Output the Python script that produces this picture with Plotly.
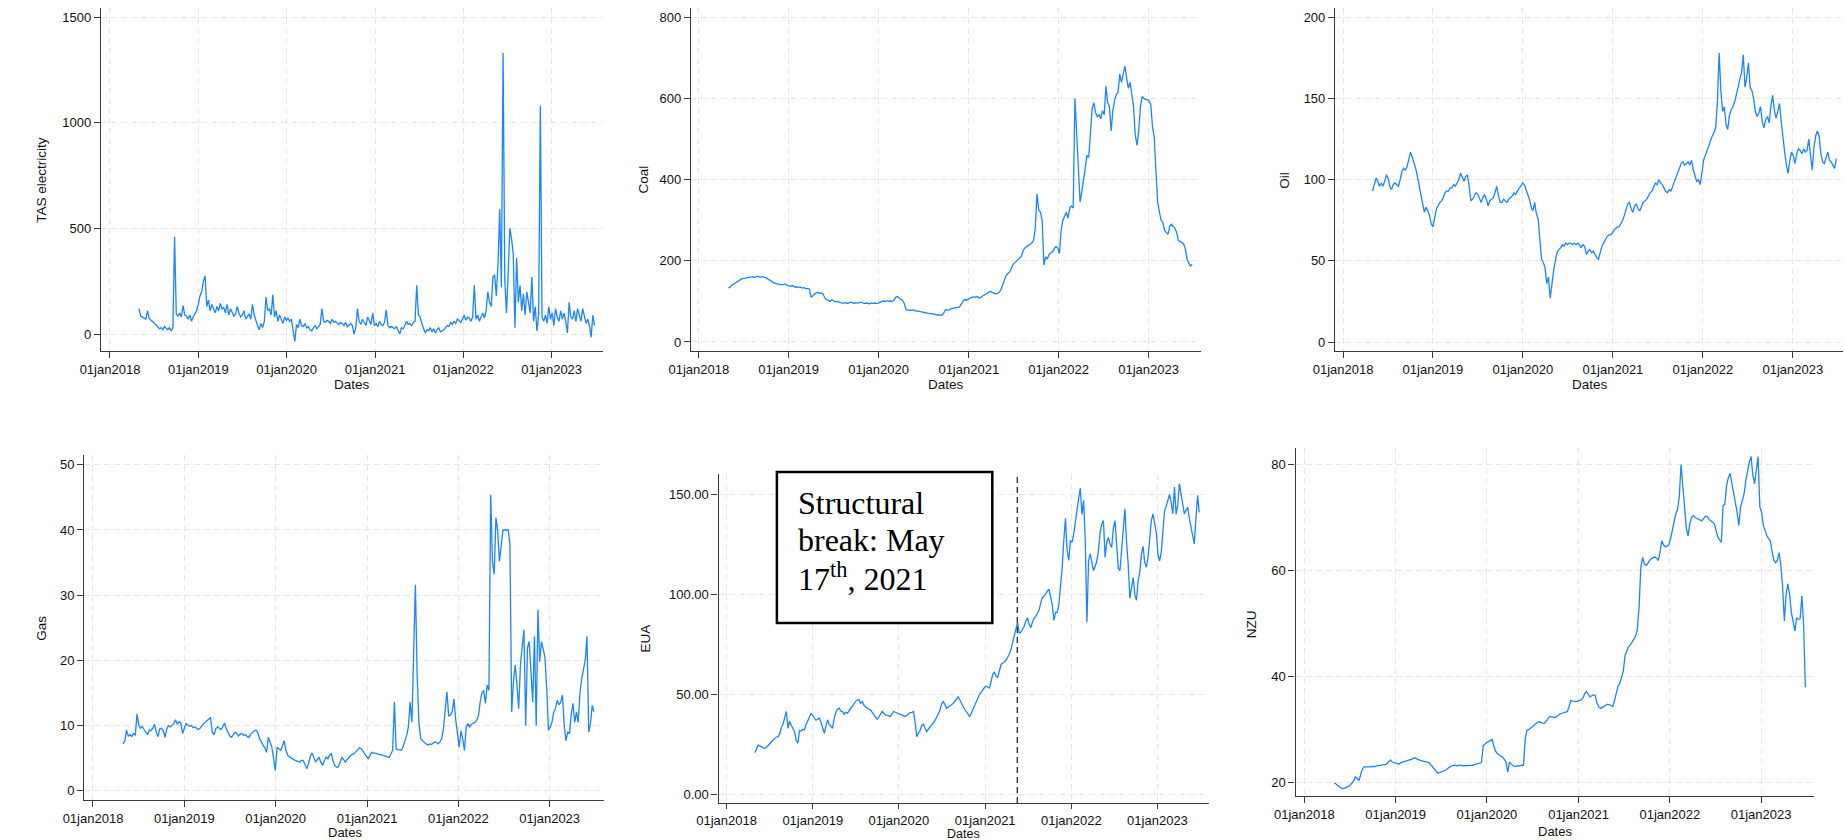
import pandas as pd
import plotly.graph_objects as go

# ---------------- data (weekly samples from 2018-05-01) ----------------
START = "2018-05-01"
tick_dates = ["2018-01-01", "2019-01-01", "2020-01-01", "2021-01-01", "2022-01-01", "2023-01-01"]
tick_labels = ["01jan2018", "01jan2019", "01jan2020", "01jan2021", "01jan2022", "01jan2023"]
break_date = "2021-05-17"

tas = [120, 85, 80, 75, 70, 110, 75, 65, 60, 50,
       45, 35, 25, 30, 20, 35, 25, 20, 30, 15,
       30, 460, 95, 85, 100, 80, 135, 90, 85, 70,
       90, 60, 80, 95, 110, 140, 180, 200, 250, 275,
       130, 160, 110, 140, 120, 100, 130, 110, 145, 120,
       125, 100, 140, 90, 120, 100, 85, 95, 130, 100,
       80, 90, 110, 70, 80, 95, 70, 140, 90, 60,
       40, 20, 50, 30, 60, 175, 110, 120, 90, 185,
       80, 110, 60, 90, 70, 50, 80, 65, 75, 60,
       70, 20, -35, 45, 30, 70, 40, 35, 50, 30,
       35, 20, 15, 30, 40, 25, 35, 45, 120, 60,
       55, 65, 60, 50, 70, 55, 60, 50, 45, 55,
       50, 40, 55, 35, 45, 50, 40, 0, 30, 120,
       60, 45, 70, 55, 40, 80, 60, 45, 100, 40,
       50, 35, 60, 45, 40, 55, 115, 40, 30, 35,
       30, 25, 35, 20, 0, 30, 25, 40, 60, 45,
       50, 40, 55, 60, 230, 90, 80, 50, 30, 5,
       20, 15, 30, 10, 25, 5, 20, 30, 10, 15,
       20, 30, 40, 35, 55, 45, 60, 50, 70, 65,
       55, 70, 90, 65, 80, 75, 60, 80, 230, 70,
       90, 60, 80, 100, 75, 110, 200, 150, 130, 270,
       280, 180, 330, 590, 220, 1330, 260, 100, 290, 500,
       450, 380, 30, 360, 150, 230, 110, 190, 90, 200,
       150, 100, 270, 60, 130, 15, 90, 1080, 80, 60,
       90, 50, 130, 70, 100, 40, 120, 80, 60, 110,
       70, 100, 60, 5, 150, 80, 70, 110, 60, 120,
       90, 60, 120, 80, 50, 70, 40, -15, 90, 40]

coal = [133, 135, 140, 143, 146, 149, 152, 154, 156, 157,
        158, 159, 160, 160, 161, 159, 161, 162, 160, 160,
        161, 159, 158, 155, 153, 150, 147, 145, 143, 142,
        142, 141, 142, 143, 140, 138, 137, 139, 136, 135,
        136, 134, 135, 133, 134, 131, 132, 130, 110, 115,
        118, 121, 122, 120, 121, 118, 108, 104, 102, 100,
        104, 101, 99, 100, 98, 97, 96, 96, 97, 95,
        96, 98, 97, 95, 97, 96, 97, 98, 96, 95,
        96, 95, 94, 96, 95, 96, 95, 96, 99, 100,
        101, 100, 102, 100, 101, 100, 103, 110, 112, 108,
        105, 103, 95, 80, 78, 79, 78, 79, 77, 76,
        76, 75, 74, 73, 73, 72, 71, 70, 70, 69,
        68, 67, 66, 67, 66, 72, 80, 78, 79, 82,
        83, 84, 85, 86, 86, 93, 100, 105, 103, 106,
        108, 110, 111, 110, 112, 110, 108, 112, 115, 118,
        120, 122, 125, 122, 121, 119, 120, 122, 128, 140,
        155, 163, 168, 172, 180, 190, 195, 200, 203, 207,
        212, 225, 232, 235, 238, 241, 244, 250, 280, 365,
        325, 320, 300, 190, 210, 205, 215, 220, 222, 230,
        235, 232, 218, 275, 300, 310, 320, 305, 330, 335,
        330, 600, 510, 440, 345, 370, 400, 430, 460, 455,
        520, 575, 590, 565, 555, 560, 550, 570, 560, 630,
        590, 580, 520, 570, 595, 610, 615, 660, 640, 665,
        680, 650, 625, 640, 610, 580, 510, 485, 520, 580,
        605, 600, 598, 597, 594, 585, 530, 505, 420, 345,
        320, 300, 295, 275, 270, 265, 285, 290, 285, 280,
        270, 250, 248, 245, 242, 230, 205, 195, 187, 192]

oil = [93, 97, 101, 99, 96, 98, 96, 99, 103, 101,
       96, 94, 97, 98, 97, 96, 100, 105, 107, 106,
       108, 112, 117, 114, 111, 107, 102, 97, 90, 87,
       80, 83, 81, 78, 73, 71, 78, 82, 84, 86,
       87, 89, 92, 93, 93, 95, 95, 97, 96, 98,
       100, 104, 101, 99, 102, 103, 96, 87, 88, 90,
       92, 91, 88, 86, 89, 91, 88, 84, 87, 88,
       89, 92, 96, 90, 86, 86, 88, 87, 86, 88,
       89, 90, 92, 91, 93, 95, 96, 98, 97, 94,
       92, 88, 83, 81, 86, 79, 76, 62, 51, 49,
       46, 36, 40, 27, 36, 44, 50, 55, 57, 58,
       60, 59, 61, 60, 61, 61, 60, 61, 60, 61,
       60, 58, 60, 59, 54, 56, 57, 55, 56, 54,
       52, 51, 56, 59, 61, 63, 65, 66, 66, 67,
       69, 70, 71, 71, 73, 75, 78, 81, 85, 86,
       82, 80, 84, 85, 82, 81, 84, 86, 87, 88,
       90, 92, 93, 96, 98, 97, 100, 98, 97, 95,
       93, 92, 94, 93, 96, 98, 101, 105, 107, 110,
       111, 109, 110, 111, 109, 112, 106, 102, 99, 100,
       97, 104, 112, 115, 118, 122, 125, 127, 129, 132,
       148, 178, 155, 142, 145, 134, 131, 140, 143, 145,
       148, 152, 157, 162, 166, 177, 157, 163, 172, 157,
       155, 150, 142, 139, 141, 145, 136, 132, 137, 139,
       135, 145, 152, 143, 138, 142, 147, 136, 125, 117,
       109, 104, 112, 117, 115, 110, 116, 119, 118, 116,
       119, 117, 118, 125, 115, 106, 120, 127, 130, 127,
       116, 111, 110, 114, 117, 112, 111, 109, 107, 113]

gas = [7.2, 7.6, 9.3, 8.4, 8.6, 8.3, 8.8, 8.5, 11.8, 10.1,
       9.6, 9.9, 9.4, 9.0, 8.6, 9.3, 9.2, 9.6, 10.2, 9.0,
       8.3, 9.5, 9.6, 9.2, 8.2, 9.5, 10.0, 9.8, 10.1, 10.3,
       10.9, 10.2, 10.6, 10.4, 8.8, 9.6, 10.3, 10.1, 9.9, 10.0,
       9.7, 9.8, 9.6, 9.4, 9.6, 10.0, 10.3, 10.5, 10.8, 11.0,
       11.2, 9.0, 8.6, 9.5, 9.8, 9.6, 9.4, 9.8, 10.4, 9.5,
       9.0, 8.4, 8.2, 8.6, 9.0, 8.8, 8.4, 8.7, 8.8, 8.5,
       8.6, 8.3, 8.2, 8.7, 9.0, 9.2, 9.3, 8.9, 8.0, 7.4,
       7.0, 6.6, 5.9, 8.2, 7.4, 6.7, 5.0, 3.1, 6.7, 6.4,
       6.2, 6.8, 7.7, 6.3, 5.5, 5.2, 5.0, 4.8, 4.7, 4.6,
       4.5, 4.4, 4.7, 4.6, 4.0, 3.4, 4.2, 5.3, 5.8, 4.9,
       4.4, 4.8, 5.1, 4.4, 3.9, 4.6, 5.2, 4.9, 5.5, 5.7,
       4.5, 3.9, 3.6, 3.7, 4.5, 5.1, 4.8, 4.4, 4.8, 5.2,
       5.4, 5.6, 5.7, 6.0, 6.3, 6.6, 6.5, 6.1, 5.9, 5.3,
       4.9, 5.4, 5.9, 5.8, 5.8, 5.7, 5.6, 5.6, 5.5, 5.4,
       5.3, 5.2, 5.1, 5.6, 6.2, 13.6, 6.4, 6.3, 6.2, 6.2,
       6.8, 7.5, 8.5, 9.8, 13.6, 10.5, 20.5, 31.6, 17.7, 10.5,
       8.0, 7.7, 7.5, 7.2, 7.0, 7.2, 7.1, 7.3, 7.5, 7.4,
       7.2, 7.5, 8.0, 9.5, 12.1, 15.2, 11.5, 11.6, 12.1, 14.1,
       11.0, 9.0, 6.7, 9.2, 8.0, 6.2, 9.8, 10.3, 9.8, 10.2,
       10.3, 10.5, 10.8, 11.5, 13.6, 15.0, 15.4, 13.4, 16.2, 15.4,
       45.4, 35.2, 33.2, 41.9, 39.9, 35.2, 37.6, 40.0, 40.0, 40.0,
       40.0, 37.8, 12.1, 16.7, 19.3, 16.2, 12.6, 19.3, 22.0, 24.7,
       10.0, 21.9, 22.9, 18.8, 13.6, 23.7, 10.0, 27.8, 19.8, 22.9,
       21.9, 20.5, 15.7, 9.3, 9.8, 10.5, 12.0, 12.6, 13.9, 13.2,
       13.6, 14.7, 10.0, 7.7, 9.0, 8.8, 11.6, 13.4, 10.5, 12.1,
       10.5, 15.0, 17.2, 18.5, 20.0, 23.7, 9.0, 10.3, 13.1, 12.1]

eua = [20.8, 22.5, 24.6, 24.0, 23.8, 23.2, 23.0, 23.5, 24.5, 25.3,
       26.0, 27.0, 28.0, 28.5, 28.8, 30.0, 33.5, 35.0, 38.0, 41.4,
       33.0, 36.5, 34.5, 33.0, 31.3, 27.0, 25.5, 32.0, 31.5, 32.5,
       32.2, 35.0, 36.4, 38.5, 40.6, 39.5, 38.0, 37.0, 37.5, 38.0,
       36.0, 33.0, 30.5, 34.0, 37.2, 35.0, 34.0, 33.0, 38.0, 41.0,
       42.5, 43.0, 41.5, 41.4, 40.0, 41.0, 40.6, 42.0, 43.0, 44.0,
       45.6, 46.5, 47.0, 47.3, 45.5, 46.4, 44.5, 43.5, 43.0, 42.5,
       42.2, 41.0, 40.0, 39.0, 37.5, 38.5, 40.0, 41.4, 40.5, 39.7,
       39.5, 39.0, 38.9, 40.0, 41.4, 41.0, 40.6, 40.3, 40.0, 39.7,
       39.3, 38.9, 39.5, 40.2, 40.8, 41.0, 41.4, 36.0, 28.8, 30.5,
       31.8, 34.5, 35.0, 33.0, 31.3, 32.5, 33.5, 34.5, 35.5, 36.8,
       38.5, 40.0, 42.0, 45.0, 46.4, 45.0, 43.0, 43.5, 44.0, 44.8,
       45.5, 46.4, 47.5, 48.9, 47.0, 45.0, 44.0, 42.5, 41.4, 40.0,
       38.9, 40.5, 42.5, 44.0, 46.5, 48.1, 50.0, 51.0, 52.5, 53.5,
       54.0, 53.5, 53.1, 56.5, 60.0, 61.0, 59.0, 58.5, 62.0, 64.9,
       65.5, 66.3, 67.0, 68.5, 70.0, 72.5, 76.0, 79.0, 83.0, 86.0,
       80.5, 81.0, 82.5, 84.0, 86.5, 88.3, 85.0, 83.3, 86.0, 88.0,
       89.0, 90.5, 92.0, 95.5, 98.4, 99.0, 100.0, 101.5, 102.6, 98.0,
       95.0, 87.0, 91.0, 91.0, 95.0, 104.0, 113.0, 126.9, 138.0, 122.0,
       117.0, 127.0, 126.0, 130.2, 137.0, 141.0, 148.0, 153.0, 140.0, 147.0,
       126.9, 86.0, 116.8, 120.2, 115.0, 111.8, 114.0, 116.8, 122.0, 131.0,
       135.2, 136.9, 118.5, 126.0, 128.5, 125.0, 123.5, 133.0, 136.9, 125.2,
       113.0, 111.8, 122.0, 133.0, 142.8, 126.0, 115.0, 98.0, 103.0, 108.4,
       100.0, 97.0, 106.8, 111.0, 120.0, 124.0, 116.0, 113.5, 118.5, 130.0,
       136.9, 140.3, 136.0, 131.0, 120.0, 116.8, 121.0, 130.0, 142.0, 144.0,
       147.0, 150.0, 146.0, 140.3, 153.7, 140.0, 145.0, 155.4, 150.0, 145.0,
       140.3, 142.0, 143.6, 138.0, 134.0, 130.0, 125.2, 138.0, 149.5, 141.0]

nzu = [20.0, 19.7, 19.5, 19.2, 19.0, 18.9, 19.0, 19.1, 19.3, 19.6,
       19.9, 20.4, 21.1, 20.8, 20.4, 21.5, 22.6, 23.0, 23.0, 22.9,
       23.0, 23.0, 23.1, 23.0, 23.2, 23.2, 23.3, 23.3, 23.4, 23.4,
       23.6, 24.0, 24.3, 23.9, 23.8, 23.6, 23.5, 23.5, 23.8, 23.9,
       24.0, 24.0, 24.2, 24.3, 24.4, 24.6, 24.7, 24.5, 24.3, 24.2,
       24.1, 24.0, 24.0, 23.9, 23.8, 23.4, 23.0, 22.6, 22.2, 21.8,
       21.9, 22.0, 22.2, 22.3, 22.5, 22.8, 23.0, 23.2, 23.3, 23.3,
       23.2, 23.3, 23.3, 23.2, 23.2, 23.2, 23.2, 23.2, 23.3, 23.3,
       23.4, 23.5, 23.6, 23.7, 23.8, 27.0, 27.4, 27.6, 27.7, 28.0,
       28.2, 27.0, 26.0, 25.5, 25.2, 25.0, 24.9, 24.5, 23.9, 22.0,
       23.9, 23.5, 23.2, 23.1, 23.1, 23.2, 23.2, 23.3, 23.3, 28.3,
       29.9, 30.0, 30.3, 30.5, 30.8, 31.1, 31.4, 31.5, 31.3, 31.2,
       31.2, 31.6, 32.2, 32.5, 32.4, 32.3, 32.3, 32.5, 32.8, 33.0,
       33.1, 33.2, 33.3, 33.4, 34.3, 35.5, 35.4, 35.3, 35.3, 35.4,
       35.5, 35.6, 36.0, 36.8, 37.2, 36.6, 36.2, 36.4, 36.6, 36.4,
       35.0, 34.3, 34.0, 34.2, 34.4, 34.6, 34.8, 34.7, 34.5, 34.4,
       35.5, 37.0, 38.2, 38.7, 39.8, 41.0, 44.0, 45.0, 45.6, 46.0,
       46.6, 47.1, 47.6, 48.8, 53.0, 60.5, 62.5, 61.3, 61.0, 61.3,
       61.9, 62.2, 62.4, 62.6, 62.3, 61.9, 63.5, 65.6, 64.8, 64.5,
       64.6, 64.8, 66.0, 67.5, 69.0, 70.7, 71.5, 74.0, 80.0, 76.0,
       73.0, 68.0, 66.5, 68.8, 70.0, 70.4, 70.0, 69.8, 69.6, 69.5,
       69.4, 69.8, 70.3, 70.2, 69.6, 69.4, 69.0, 68.8, 67.5, 66.3,
       65.8, 65.3, 72.3, 72.5, 76.0, 77.5, 78.3, 76.5, 74.5, 72.8,
       71.0, 68.5, 72.0, 73.2, 74.5, 77.0, 79.0, 80.5, 81.5, 78.0,
       76.4, 79.0, 81.5, 72.0, 71.0, 68.5, 67.5, 66.6, 66.0, 65.6,
       63.5, 61.9, 61.5, 61.9, 63.4, 61.0, 57.0, 50.5, 55.5, 57.5,
       55.5, 52.0, 50.5, 48.6, 51.1, 50.8, 50.9, 55.2, 49.8, 38.0]

# ---------------- layout configuration (pixel geometry) ----------------
W, H = 1845, 840
LINE_COLOR = "#1A85FF"
AXIS_COLOR = "#3a3a3a"
GRID_COLOR = "#e6e6e6"
TEXT_COLOR = "#111111"
FONT = "Liberation Sans, Arial, sans-serif"

panels = [
    dict(title="TAS electricity", values=tas, px=(80, 588), py=(8, 351),
         xr=("2017-11-25", "2023-08-01"), yr=(-80.4, 1542.6), yt=[0, 500, 1000, 1500], fmt="d",
         ytpos=(19, 180), xtpos=(334, 385), xtsize=13.5, xticklen=6),
    dict(title="Coal", values=coal, px=(677, 1193), py=(8, 351),
         xr=("2017-11-30", "2023-08-01"), yr=(-22.2, 823), yt=[0, 200, 400, 600, 800], fmt="d",
         ytpos=(628, 180), xtpos=(935, 385), xtsize=13.5, xticklen=6),
    dict(title="Oil", values=oil, px=(1329, 1843), py=(8, 351),
         xr=("2017-11-30", "2023-07-24"), yr=(-5.5, 205.8), yt=[0, 50, 100, 150, 200], fmt="d",
         ytpos=(1277, 180), xtpos=(1587, 385), xtsize=13.5, xticklen=6),
    dict(title="Gas", values=gas, px=(63, 589), py=(455, 800),
         xr=("2017-11-27", "2023-08-06"), yr=(-1.41, 51.5), yt=[0, 10, 20, 30, 40, 50], fmt="d",
         ytpos=(19, 628), xtpos=(327, 832), xtsize=13, xticklen=6),
    dict(title="EUA", values=eua, px=(705, 1201), py=(474, 803),
         xr=("2017-11-28", "2023-08-06"), yr=(-4.4, 160.2), yt=[0, 50, 100, 150], fmt=".2f",
         ytpos=(631, 638), xtpos=(953, 833.5), xtsize=12.5, xticklen=5),
    dict(title="NZU", values=nzu, px=(1289, 1814), py=(447.5, 796),
         xr=("2017-11-27", "2023-08-02"), yr=(17.5, 83.2), yt=[20, 40, 60, 80], fmt="d",
         ytpos=(1244, 624), xtpos=(1552, 831), xtsize=13, xticklen=6),
]

fig = go.Figure()
annotations = []
shapes = []

for k, p in enumerate(panels, start=1):
    sfx = "" if k == 1 else str(k)
    dates = pd.date_range(START, periods=len(p["values"]), freq="7D")
    fig.add_trace(go.Scatter(
        x=dates, y=p["values"], mode="lines",
        line=dict(color=LINE_COLOR, width=1.3),
        xaxis="x" + sfx, yaxis="y" + sfx, showlegend=False,
        hoverinfo="x+y",
    ))
    common = dict(
        showline=True, linecolor=AXIS_COLOR, linewidth=1.4,
        ticks="outside", tickwidth=1.2, tickcolor=AXIS_COLOR,
        showgrid=True, gridcolor=GRID_COLOR, gridwidth=1, griddash="6px,4px",
        zeroline=False, tickfont=dict(family=FONT, size=13, color=TEXT_COLOR),
        fixedrange=True,
    )
    fig.layout["xaxis" + sfx] = dict(
        domain=[p["px"][0] / W, p["px"][1] / W], anchor="y" + sfx,
        type="date", range=list(p["xr"]), ticklen=p["xticklen"],
        tickmode="array", tickvals=tick_dates, ticktext=tick_labels,
        **common,
    )
    fig.layout["yaxis" + sfx] = dict(
        domain=[1 - p["py"][1] / H, 1 - p["py"][0] / H], anchor="x" + sfx,
        range=list(p["yr"]), ticklen=6, tickmode="array", tickvals=p["yt"], tickformat=p["fmt"],
        **common,
    )
    annotations.append(dict(
        text=p["title"], x=p["ytpos"][0] / W, y=1 - p["ytpos"][1] / H,
        xref="paper", yref="paper", showarrow=False, textangle=-90,
        xanchor="center", yanchor="middle",
        font=dict(family=FONT, size=13.5, color=TEXT_COLOR),
    ))
    annotations.append(dict(
        text="Dates", x=p["xtpos"][0] / W, y=1 - p["xtpos"][1] / H,
        xref="paper", yref="paper", showarrow=False,
        xanchor="center", yanchor="middle", borderpad=0,
        font=dict(family=FONT, size=p["xtsize"], color=TEXT_COLOR),
    ))

# structural break line in the EUA panel
shapes.append(dict(
    type="line", xref="x5", yref="y5 domain", x0=break_date, x1=break_date, y0=0, y1=1,
    line=dict(color="#333333", width=1.4, dash="6px,4px"),
))
# text box
shapes.append(dict(
    type="rect", xref="paper", yref="paper",
    x0=764 / W, x1=982 / W, y0=1 - 623 / H, y1=1 - 472 / H,
    line=dict(color="black", width=2.5), fillcolor="white", layer="above",
))
box_lines = ["Structural", "break: May", "17<sup>th</sup>, 2021"]
box_line_y = [503, 540, 577]
for txt, yy in zip(box_lines, box_line_y):
    annotations.append(dict(
        text=txt, x=783 / W, y=1 - yy / H, xref="paper", yref="paper",
        showarrow=False, xanchor="left", yanchor="middle", align="left",
        font=dict(family="Liberation Serif, Times New Roman, serif", size=32, color="black"),
    ))

fig.update_layout(
    width=W, height=H, autosize=False,
    margin=dict(l=0, r=0, t=0, b=0, pad=0),
    paper_bgcolor="white", plot_bgcolor="white",
    annotations=annotations, shapes=shapes,
    showlegend=False,
)

fig.write_html(
    "out.html",
    config={"displayModeBar": False},
    post_script="document.body.style.margin='0';document.body.style.overflow='hidden';",
)
